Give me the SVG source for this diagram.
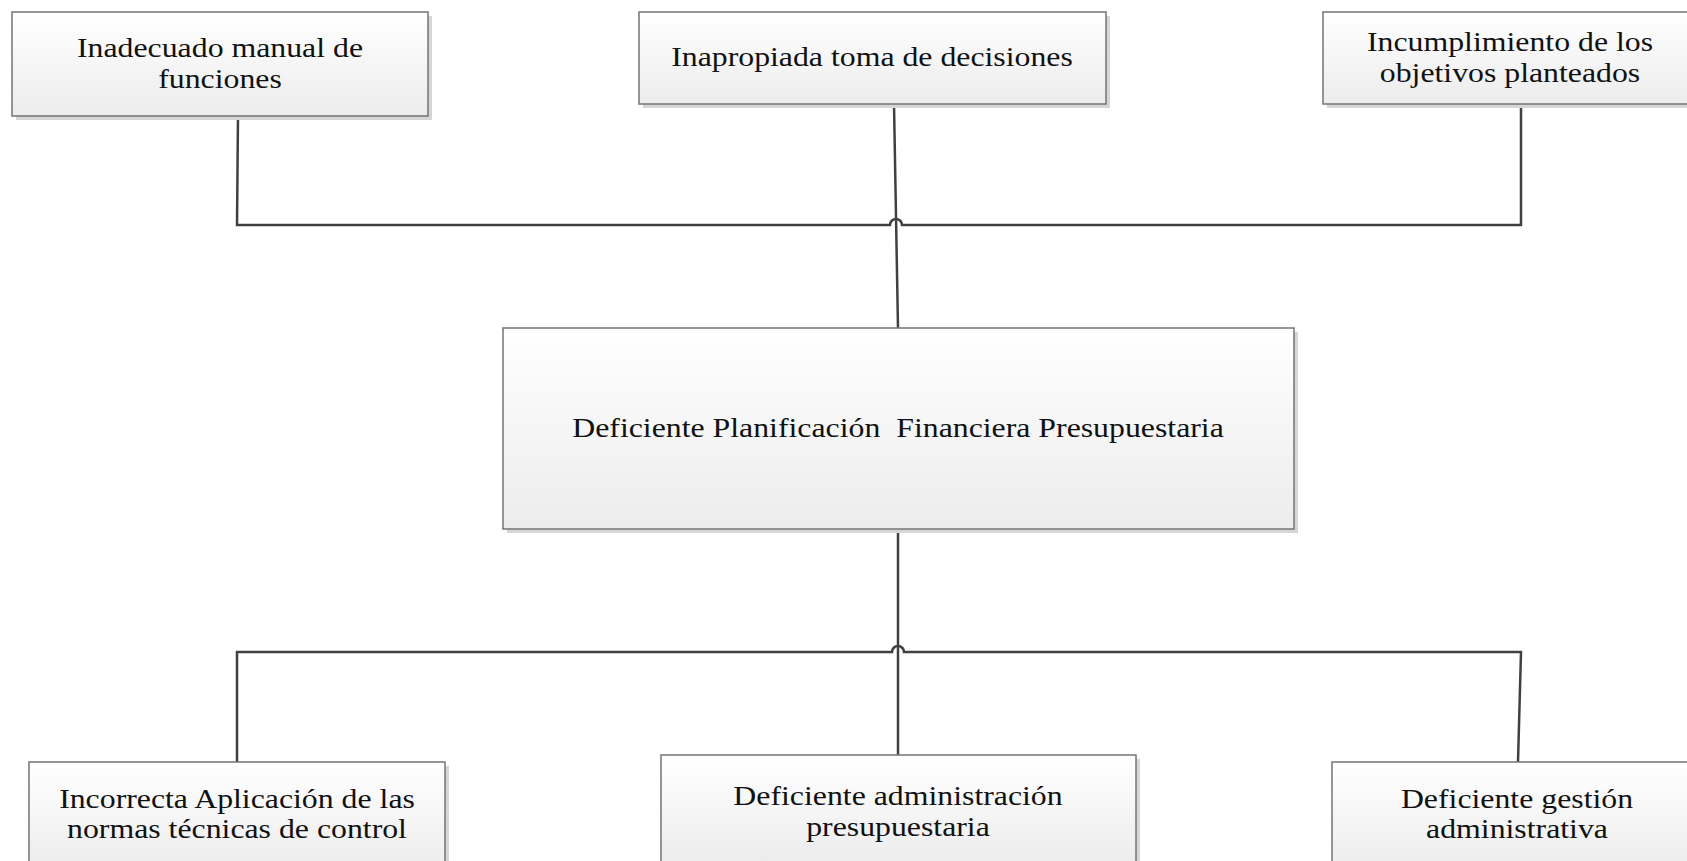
<svg xmlns="http://www.w3.org/2000/svg" width="1687" height="861" viewBox="0 0 1687 861">
  <defs>
    <linearGradient id="boxFill" x1="0" y1="0" x2="0" y2="1">
      <stop offset="0" stop-color="#ffffff"/>
      <stop offset="1" stop-color="#ececec"/>
    </linearGradient>
  </defs>
  <style>
    .shadow { fill: #d6d6d6; }
    .box { fill: url(#boxFill); stroke: #747474; stroke-width: 1.5; }
    .label { font-family: "Liberation Serif", "Times New Roman", serif; font-size: 26.5px; fill: #111111; text-anchor: middle; }
    .wire { fill: none; stroke: #404040; stroke-width: 2.5; stroke-linejoin: miter; }
  </style>
  <rect width="1687" height="861" fill="#ffffff"/>

  <!-- connectors -->
  <g id="connectors">
    <path class="wire" d="M238,116 L237,225 L890,225 A6,6 0 0 1 902,225 L1521,225 L1521,104"/>
    <path class="wire" d="M894,104 L898,328"/>
    <path class="wire" d="M898,529 L898,755"/>
    <path class="wire" d="M237,762 L237,652 L892,652 A6,6 0 0 1 904,652 L1521,652 L1518,762"/>
  </g>

  <!-- top row: effects -->
  <g id="node-manual">
    <rect class="shadow" x="16" y="16" width="416" height="104"/>
    <rect class="box" x="12" y="12" width="416" height="104"/>
    <text class="label" transform="translate(220,57) scale(1.2 1)">Inadecuado manual de</text>
    <text class="label" transform="translate(220,88) scale(1.2 1)">funciones</text>
  </g>
  <g id="node-decisiones">
    <rect class="shadow" x="643" y="16" width="467" height="92"/>
    <rect class="box" x="639" y="12" width="467" height="92"/>
    <text class="label" transform="translate(872,66) scale(1.2 1)">Inapropiada toma de decisiones</text>
  </g>
  <g id="node-objetivos">
    <rect class="shadow" x="1327" y="16" width="374" height="92"/>
    <rect class="box" x="1323" y="12" width="374" height="92"/>
    <text class="label" transform="translate(1510,51) scale(1.2 1)">Incumplimiento de los</text>
    <text class="label" transform="translate(1510,82) scale(1.2 1)">objetivos planteados</text>
  </g>

  <!-- central problem -->
  <g id="node-problema">
    <rect class="shadow" x="507" y="332" width="791" height="201"/>
    <rect class="box" x="503" y="328" width="791" height="201"/>
    <text class="label" transform="translate(898,437) scale(1.2 1)" xml:space="preserve">Deficiente Planificación  Financiera Presupuestaria</text>
  </g>

  <!-- bottom row: causes -->
  <g id="node-normas">
    <rect class="shadow" x="33" y="766" width="416" height="110"/>
    <rect class="box" x="29" y="762" width="416" height="110"/>
    <text class="label" transform="translate(237,808) scale(1.2 1)">Incorrecta Aplicación de las</text>
    <text class="label" transform="translate(237,838) scale(1.2 1)">normas técnicas de control</text>
  </g>
  <g id="node-administracion">
    <rect class="shadow" x="665" y="759" width="475" height="110"/>
    <rect class="box" x="661" y="755" width="475" height="110"/>
    <text class="label" transform="translate(898,805) scale(1.2 1)">Deficiente administración</text>
    <text class="label" transform="translate(898,836) scale(1.2 1)">presupuestaria</text>
  </g>
  <g id="node-gestion">
    <rect class="shadow" x="1336" y="766" width="370" height="110"/>
    <rect class="box" x="1332" y="762" width="370" height="110"/>
    <text class="label" transform="translate(1517,808) scale(1.2 1)">Deficiente gestión</text>
    <text class="label" transform="translate(1517,838) scale(1.2 1)">administrativa</text>
  </g>
</svg>
